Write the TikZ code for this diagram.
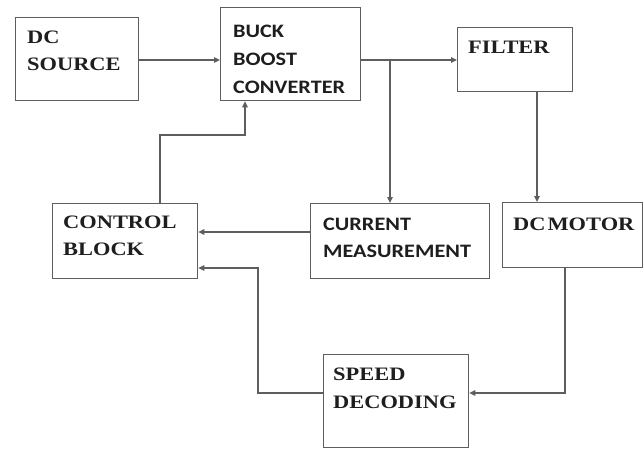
\documentclass[tikz,border=0pt]{standalone}
\usepackage{fontspec}
\usetikzlibrary{arrows.meta}
\newfontfamily\serifb[FakeStretch=1.18]{Liberation Serif}
\newfontfamily\sansb[FakeStretch=1.17]{Carlito}
\definecolor{linegray}{HTML}{5E5E5E}
\definecolor{txt}{HTML}{1E1E1E}
\begin{document}
\begin{tikzpicture}[x=1pt,y=-1pt,
  box/.style={draw=linegray,line width=1.3pt,anchor=north west,inner sep=0pt,fill=none},
  lab/.style={anchor=base west,inner sep=0pt,text=txt,font=\serifb\bfseries\fontsize{19}{22}\selectfont},
  slab/.style={anchor=base west,inner sep=0pt,text=txt,font=\sansb\bfseries\fontsize{19}{22}\selectfont},
  conn/.style={draw=linegray,line width=1.2pt},
  arr/.style={conn,-{Triangle[length=6pt,width=5.5pt]}}]
\useasboundingbox (0,0) rectangle (644,450);
% boxes
\node[box,minimum width=123pt,minimum height=83pt] (src) at (15,17) {};
\node[box,minimum width=140pt,minimum height=93pt] (buck) at (220,7) {};
\node[box,minimum width=115pt,minimum height=64pt] (filt) at (457,27) {};
\node[box,minimum width=145pt,minimum height=75pt] (ctrl) at (52,203) {};
\node[box,minimum width=179pt,minimum height=75pt] (cur) at (310,203) {};
\node[box,minimum width=140pt,minimum height=65pt] (mot) at (502,202) {};
\node[box,minimum width=145pt,minimum height=93pt] (spd) at (323,354) {};
% labels
\node[lab] (srcA) at (27,43) {DC};
\node[lab] (srcB) at (27,70) {SOURCE};
\node[slab] (buckA) at (233,37) {BUCK};
\node[slab] (buckB) at (233,65) {BOOST};
\node[slab] (buckC) at (233,93) {CONVERTER};
\node[lab] (filtA) at (468,53) {FILTER};
\node[lab] (ctrlA) at (63,228) {CONTROL};
\node[lab] (ctrlB) at (63,255) {BLOCK};
\node[slab] (curA) at (323,230) {CURRENT};
\node[slab] (curB) at (323,257) {MEASUREMENT};
\node[lab] (motA) at (513,230) {DC\kern2pt MOTOR};
\node[lab] (spdA) at (333,380) {SPEED};
\node[lab] (spdB) at (333,408) {DECODING};
% helper coordinates
\coordinate (yA) at (0,60);
\coordinate (br) at (390,60);
\coordinate (fm) at (537,0);
\coordinate (yCur) at (0,232);
\coordinate (ySpd) at (0,268);
\coordinate (xSpd) at (258,393);
\coordinate (xMot) at (565,393);
\coordinate (cb1) at (160,135);
\coordinate (cb2) at (245,135);
% connectors
\draw[arr] (src.east |- yA) -- (buck.west |- yA);
\draw[arr] (buck.east |- yA) -- (filt.west |- yA);
\draw[arr] (br) -- (br |- cur.north);
\draw[arr] (filt.south -| fm) -- (mot.north -| fm);
\draw[arr] (cur.west |- yCur) -- (ctrl.east |- yCur);
\draw[arr] (spd.west |- xSpd) -- (xSpd) -- (xSpd |- ySpd) -- (ctrl.east |- ySpd);
\draw[arr] (mot.south -| xMot) -- (xMot) -- (spd.east |- xMot);
\draw[arr] (ctrl.north -| cb1) -- (cb1) -- (cb2) -- (buck.south -| cb2);
\end{tikzpicture}
\end{document}
